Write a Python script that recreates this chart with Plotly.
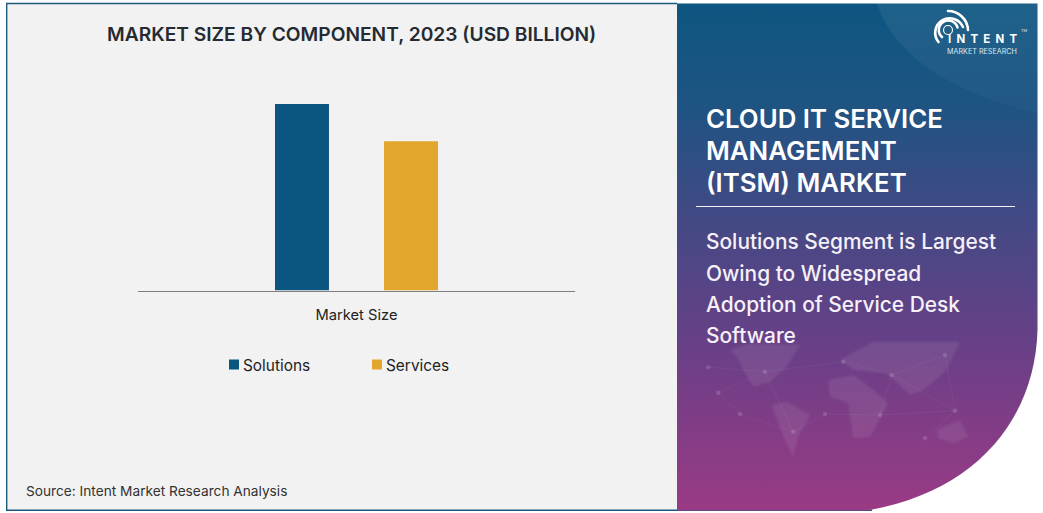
import base64
import plotly.graph_objects as go

categories = ["Market Size"]
solutions = [5.0]
services = [4.0]
series_names = ["Solutions", "Services"]
series_colors = ["#0b5581", "#e3a62d"]
chart_title = "MARKET SIZE BY COMPONENT, 2023 (USD BILLION)"
source_note = "Source: Intent Market Research Analysis"
panel_title = ["CLOUD IT SERVICE", "MANAGEMENT", "(ITSM) MARKET"]
panel_text = ["Solutions Segment is Largest", "Owing to Widespread", "Adoption of Service Desk", "Software"]

W, H = 1043, 513


def z(points):
    return "M" + " L".join(f"{x/3+640:.1f},{y/3+340:.1f}" for x, y in points) + " Z"


continents = [
    [(270, 30), (330, 10), (480, 15), (440, 80), (390, 125), (340, 140), (310, 90), (290, 50)],
    [(395, 195), (440, 185), (510, 225), (475, 290), (460, 350), (430, 290)],
    [(565, 120), (640, 105), (700, 150), (745, 190), (690, 290), (640, 295), (625, 190), (570, 170)],
    [(600, 60), (700, 5), (960, 5), (920, 90), (850, 150), (810, 165), (740, 100), (640, 90)],
    [(890, 270), (960, 240), (985, 290), (940, 310), (895, 295)],
]
nodes = [(235, 158), (300, 222), (555, 222), (945, 212), (755, 105), (610, 65), (375, 95), (460, 275),
         (205, 82), (720, 225), (855, 295), (915, 45)]
links = [(0, 6), (1, 7), (2, 7), (2, 9), (3, 9), (4, 5), (4, 9), (3, 4), (6, 8), (5, 6), (10, 3), (11, 4), (0, 1), (7, 6), (11, 3)]

land = "".join(f'<path d="{z(c)}" fill="#fff" fill-opacity="0.08" filter="url(#b)"/>' for c in continents)
dots = "".join(f'<circle cx="{x/3+640:.1f}" cy="{y/3+340:.1f}" r="2.2" fill="#fff" fill-opacity="0.14"/>' for x, y in nodes)
wires = "".join(
    f'<line x1="{nodes[a][0]/3+640:.1f}" y1="{nodes[a][1]/3+340:.1f}" x2="{nodes[b][0]/3+640:.1f}" y2="{nodes[b][1]/3+340:.1f}" stroke="#fff" stroke-opacity="0.07" stroke-width="0.7"/>'
    for a, b in links)

svg = f'''<svg xmlns="http://www.w3.org/2000/svg" width="{W}" height="{H}" viewBox="0 0 {W} {H}">
<defs>
<filter id="b"><feGaussianBlur stdDeviation="1.2"/></filter>
<linearGradient id="g" x1="0" y1="0" x2="0" y2="1">
<stop offset="0" stop-color="#0d5681"/><stop offset="0.2" stop-color="#1e5482"/>
<stop offset="0.4" stop-color="#3f4a84"/><stop offset="0.7" stop-color="#6c3f87"/>
<stop offset="1" stop-color="#9b3a85"/></linearGradient>
<linearGradient id="s" x1="0" y1="0" x2="0" y2="1">
<stop offset="0" stop-color="#fff" stop-opacity="0.07"/><stop offset="1" stop-color="#fff" stop-opacity="0.02"/></linearGradient>
</defs>
<rect width="{W}" height="{H}" fill="#fff"/>
<rect x="7" y="4" width="670" height="506" fill="#f2f2f2"/>
<path d="M677,3.5 H6.7 V510.3 H872" fill="none" stroke="#1d5a7d" stroke-width="1.4"/>
<path d="M677,3.5 H1037.5 V330 C1035,420 975,492 867,510.5 H677 Z" fill="url(#g)"/>
<path d="M877,3.5 C895,60 960,95 1037.5,113 V3.5 Z" fill="url(#s)"/>
<g>{land}{wires}{dots}</g>
<line x1="696" y1="206.5" x2="1015" y2="206.5" stroke="#f4f0f8" stroke-width="1"/>
<g fill="none" stroke="#fff" stroke-linecap="round">
<path d="M938.5,42 A14.5,14.5 0 1 1 963,27" stroke-width="2.6"/>
<path d="M942,37 A9.5,9.5 0 1 1 957.5,27.5" stroke-width="2.6"/>
<path d="M948,11 A20,20 0 0 1 968,30" stroke-width="2.6"/>
<circle cx="948" cy="30" r="4.5" stroke-width="1.2"/>
</g>
</svg>'''
src = "data:image/svg+xml;base64," + base64.b64encode(svg.encode()).decode()

fig = go.Figure()
for name, vals, col in zip(series_names, [solutions, services], series_colors):
    fig.add_bar(name=name, x=categories, y=vals, marker=dict(color=col, line_width=0))


def label(text, x, y, size, color="#ffffff", weight=400, family="Inter", anchor="left"):
    fig.add_annotation(text=text, x=x / W, y=1 - y / H, xref="paper", yref="paper", xanchor=anchor, yanchor="middle",
                       showarrow=False, align="left", borderpad=0,
                       font=dict(size=size, color=color, family=family, weight=weight))


label(chart_title, 351, 34, 19.2, "#252a33", 600, anchor="center")
label(source_note, 24.5, 491, 13.7, "#333333")
for t, yy in zip(panel_title, [119, 151, 182]):
    label(t, 705, yy, 25.8, weight=600)
for t, yy in zip(panel_text, [241, 273, 304, 335]):
    label(t, 705, yy, 20.9, "#f6f0f8", 500)
label("INTENT", 947, 39.5, 11.5, weight=700)
label("MARKET RESEARCH", 946, 51.5, 7.2, "#dfe8f0")
label("TM", 1020, 30, 4, "#dfe8f0")

y_top, y_base = 70.0, 290.5
fig.update_layout(
    width=W, height=H, margin=dict(l=0, r=0, t=0, b=0), autosize=False,
    paper_bgcolor="rgba(0,0,0,0)", plot_bgcolor="rgba(0,0,0,0)",
    barmode="group", bargap=0.501, bargroupgap=0.505,
    xaxis=dict(domain=[138 / W, 575 / W], showline=True, linecolor="#7f7f7f", linewidth=1.2, showgrid=False,
               ticks="outside", ticklen=11, tickcolor="rgba(0,0,0,0)", zeroline=False,
               tickfont=dict(size=14.7, color="#222222", family="Inter")),
    yaxis=dict(domain=[1 - y_base / H, 1 - y_top / H], range=[0, 5.0 * (y_base - y_top) / 186.5], visible=False),
    legend=dict(orientation="h", x=214 / W, y=1 - 348 / H, xanchor="left", yanchor="top", entrywidth=98,
                entrywidthmode="pixels", font=dict(size=15.4, color="#222222", family="Inter"), bgcolor="rgba(0,0,0,0)",
                traceorder="normal"),
    images=[dict(source=src, xref="paper", yref="paper", x=0, y=1, sizex=1, sizey=1, sizing="stretch",
                 xanchor="left", yanchor="top", layer="below")],
    hovermode=False,
)

post = """
document.body.style.margin='0';
document.querySelectorAll('.legendtext').forEach(function(t){t.setAttribute('x','29');});
document.querySelectorAll('.legendpoints path').forEach(function(p){p.setAttribute('d','M5,5H-5V-5H5Z');});
document.querySelectorAll('.annotation-text').forEach(function(t){
  if(t.textContent==='INTENT'){t.style.letterSpacing='5.2px';}
});
"""
fig.write_html("out.html", config={"displayModeBar": False, "responsive": False}, post_script=post)
